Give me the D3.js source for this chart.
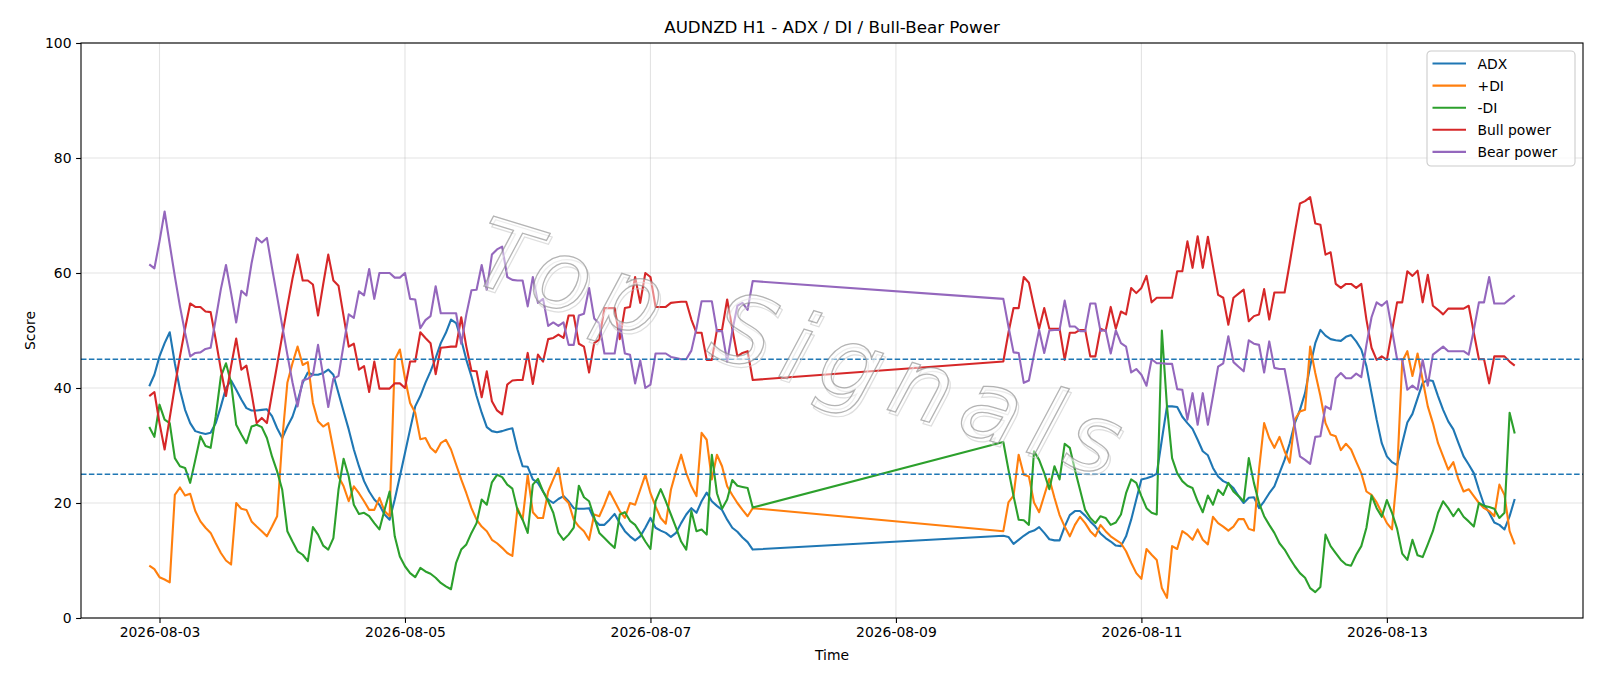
<!DOCTYPE html>
<html>
<head>
<meta charset="utf-8">
<script src="https://cdn.jsdelivr.net/npm/d3@7"></script>
<style>
  body { margin: 0; background: #fff; }
  svg { display: block; }
  text { font-family: "DejaVu Sans", sans-serif; }
</style>
</head>
<body>
<svg id="chart" width="1600" height="686"></svg>
<script>
// hourly bars, two trading blocks (weekend gap in between)
const segmentStarts = ["2026-08-02T22:00:00Z", "2026-08-09T21:00:00Z"];
const segmentEnds   = ["2026-08-07T20:00:00Z", "2026-08-14T01:00:00Z"];

const tickLabels = ["2026-08-03", "2026-08-05", "2026-08-07", "2026-08-09", "2026-08-11", "2026-08-13"];
const yTicks = [0, 20, 40, 60, 80, 100];
const levels = [45, 25];

const adx = [
  40.3, 42.3, 45.5, 47.8, 49.7, 44.3, 39.7, 36.2, 33.9, 32.5,
  32.2, 32.0, 32.2, 33.9, 36.8, 40.0, 41.3, 39.7, 38.0, 36.5,
  36.1, 36.1, 36.2, 36.3, 35.1, 33.0, 31.3, 33.3, 35.0, 37.7,
  40.9, 42.7, 42.3, 42.3, 42.6, 43.2, 42.3, 39.1, 35.9, 32.8,
  29.3, 26.4, 23.8, 22.0, 20.6, 19.7, 18.0, 17.1, 20.6, 24.6,
  28.7, 32.8, 36.8, 38.6, 40.9, 42.9, 45.2, 47.8, 49.6, 51.9,
  51.3, 48.4, 44.9, 42.0, 38.6, 35.7, 33.2, 32.5, 32.3, 32.5,
  32.8, 33.0, 29.3, 26.4, 26.3, 24.1, 23.5, 22.0, 20.6, 20.0,
  20.7, 21.2, 20.3, 19.1, 19.0, 19.0, 19.1, 17.1, 16.2, 16.2,
  17.1, 18.1, 16.5, 15.1, 14.2, 13.5, 14.2, 15.7, 17.4, 15.7,
  15.2, 14.8, 14.1, 14.8, 16.5, 18.0, 19.1, 18.3, 20.3, 21.8,
  20.3, 19.5, 18.8, 17.1, 15.7, 15.0, 14.0, 13.2, 11.9,
  14.3, 14.1, 12.9, 13.6, 14.3, 14.9, 15.2, 15.8, 14.8, 13.7,
  13.5, 13.5, 15.9, 17.9, 18.6, 18.6, 17.8, 16.8, 15.9, 14.7,
  13.9, 13.3, 12.6, 12.5, 14.2, 17.1, 20.6, 24.1, 24.3, 24.6,
  25.1, 31.0, 36.8, 36.8, 36.7, 35.0, 33.9, 32.9, 31.0, 29.0,
  28.3, 26.1, 24.6, 23.8, 23.4, 22.6, 21.2, 20.0, 20.9, 21.0,
  19.1, 20.3, 21.7, 22.9, 25.2, 27.5, 30.4, 33.9, 36.2, 39.1,
  43.8, 47.8, 50.1, 49.1, 48.5, 48.3, 48.2, 48.9, 49.2, 48.1,
  46.7, 43.8, 39.1, 34.5, 30.4, 28.1, 27.1, 26.6, 30.4, 34.0,
  35.5, 38.2, 40.9, 41.4, 41.2, 38.6, 36.2, 34.2, 32.8, 30.4,
  28.1, 26.7, 25.2, 22.3, 19.7, 18.3, 16.6, 16.2, 15.4, 17.7,
  20.7
];

const plusDI = [
  9.1, 8.5, 7.1, 6.7, 6.2, 21.4, 22.7, 21.3, 21.6, 18.6,
  16.8, 15.7, 14.8, 13.0, 11.3, 10.0, 9.3, 20.0, 19.0, 18.8,
  16.8, 15.9, 15.1, 14.2, 15.9, 17.7, 31.0, 40.9, 44.3, 47.2,
  44.0, 44.5, 37.4, 34.2, 33.3, 33.9, 29.3, 24.6, 22.9, 20.3,
  22.9, 21.7, 20.3, 18.8, 18.8, 20.9, 18.6, 17.7, 44.9, 46.7,
  41.7, 37.4, 35.7, 31.1, 31.3, 29.6, 28.8, 30.4, 31.0, 29.3,
  26.7, 24.1, 21.7, 19.1, 17.1, 15.9, 15.1, 13.6, 13.0, 12.2,
  11.3, 10.8, 19.1, 17.1, 24.9, 18.4, 17.4, 17.4, 22.0, 24.1,
  26.1, 20.9, 20.0, 17.1, 15.9, 15.1, 13.6, 18.0, 17.7, 19.7,
  22.0, 20.3, 18.6, 17.4, 20.0, 19.7, 22.3, 24.9, 21.7, 19.4,
  17.4, 16.4, 22.3, 25.5, 28.4, 25.2, 22.9, 21.2, 32.2, 31.0,
  24.1, 28.4, 26.4, 22.9, 21.4, 20.0, 18.8, 17.7, 19.1,
  15.1, 20.1, 21.3, 28.4, 24.9, 24.6, 20.1, 18.4, 21.3, 24.2,
  20.9, 17.9, 15.9, 14.2, 16.2, 17.6, 16.5, 15.1, 14.2, 16.2,
  15.1, 14.2, 13.6, 13.0, 11.6, 9.6, 7.8, 6.8, 12.0, 11.0,
  10.1, 5.2, 3.5, 12.5, 12.0, 15.1, 14.5, 13.6, 15.4, 13.6,
  12.8, 17.6, 16.5, 15.9, 15.2, 15.9, 17.2, 17.2, 15.5, 15.2,
  25.8, 33.9, 31.3, 29.6, 31.5, 29.0, 27.0, 34.5, 35.9, 36.2,
  47.2, 42.6, 38.6, 33.9, 31.9, 31.6, 29.2, 30.3, 29.3, 27.2,
  25.2, 22.0, 21.4, 20.1, 18.3, 16.5, 15.4, 25.2, 44.6, 46.4,
  42.1, 46.0, 41.4, 36.8, 33.9, 30.4, 28.1, 25.8, 27.1, 24.1,
  22.0, 22.4, 21.2, 20.0, 19.1, 18.6, 17.7, 23.2, 21.4, 15.1,
  12.8
];

const minusDI = [
  33.2, 31.5, 37.1, 34.5, 33.9, 27.8, 26.4, 26.1, 23.5, 27.5,
  31.6, 29.9, 29.6, 35.1, 42.0, 44.3, 40.9, 33.6, 31.9, 30.4,
  33.3, 33.6, 33.2, 31.3, 28.1, 25.5, 22.3, 15.1, 13.3, 11.6,
  11.0, 9.9, 15.8, 14.5, 12.6, 11.9, 13.9, 22.3, 27.7, 24.6,
  19.7, 18.1, 18.3, 17.7, 16.5, 15.4, 18.8, 22.0, 14.2, 10.7,
  9.0, 7.8, 7.1, 8.7, 8.1, 7.7, 7.0, 6.1, 5.5, 5.0,
  9.6, 11.9, 12.8, 14.8, 16.5, 20.6, 19.7, 23.6, 24.9, 24.5,
  23.2, 22.5, 18.8, 17.1, 14.8, 23.2, 24.2, 22.0, 20.3, 18.3,
  14.8, 13.6, 14.5, 15.7, 23.0, 21.0, 20.3, 17.5, 14.8, 13.9,
  13.0, 12.2, 18.0, 18.4, 16.9, 16.2, 14.8, 13.3, 12.0, 20.3,
  22.4, 20.3, 18.0, 15.7, 13.3, 11.9, 18.6, 15.1, 15.4, 14.5,
  28.4, 21.7, 19.0, 20.6, 24.0, 23.0, 22.8, 22.6, 19.2,
  30.6, 25.8, 21.2, 17.1, 17.0, 16.2, 29.0, 27.5, 25.2, 22.4,
  26.4, 24.1, 30.3, 29.6, 25.8, 22.3, 18.8, 17.4, 16.5, 17.7,
  17.4, 16.2, 16.6, 18.0, 21.7, 24.1, 23.5, 21.2, 19.1, 18.3,
  18.0, 50.0, 36.8, 27.8, 25.2, 23.8, 23.0, 22.6, 20.3, 18.4,
  21.3, 19.7, 22.3, 21.4, 23.5, 22.0, 21.2, 20.3, 27.8, 23.5,
  20.0, 17.7, 16.2, 14.8, 13.0, 11.9, 10.4, 9.0, 7.8, 7.0,
  5.2, 4.5, 5.4, 14.5, 12.5, 11.3, 10.1, 9.3, 9.1, 11.0,
  12.5, 15.7, 21.3, 19.1, 17.6, 20.5, 18.3, 15.5, 11.2, 10.1,
  13.6, 10.9, 10.6, 12.8, 15.1, 18.3, 20.3, 19.1, 17.7, 19.0,
  17.6, 16.8, 15.9, 20.0, 19.5, 19.3, 19.0, 17.4, 18.3, 35.7,
  32.1
];

const bullPower = [
  38.6, 39.3, 33.9, 29.3, 34.8, 40.3, 45.5, 50.3, 54.7, 54.1,
  54.1, 53.3, 53.2, 48.4, 43.2, 38.6, 43.8, 48.6, 43.2, 43.9,
  39.1, 33.9, 34.8, 33.9, 39.0, 44.0, 49.1, 54.2, 59.0, 63.2,
  58.7, 58.7, 58.0, 52.6, 58.0, 63.2, 58.7, 57.8, 52.5, 47.2,
  47.7, 43.2, 43.8, 39.3, 44.6, 39.9, 39.9, 39.9, 40.8, 40.8,
  40.0, 44.6, 44.6, 49.7, 48.7, 47.8, 42.4, 47.0, 47.1, 47.2,
  47.2, 52.3, 47.2, 43.0, 42.9, 38.4, 42.9, 37.7, 36.1, 35.4,
  40.6, 41.3, 41.4, 41.4, 46.1, 40.7, 45.8, 44.6, 48.5, 48.7,
  49.3, 48.7, 52.6, 52.6, 47.7, 47.2, 42.7, 47.8, 48.4, 53.9,
  53.9, 53.9, 48.5, 53.9, 54.1, 59.3, 54.8, 60.0, 59.3, 54.1,
  54.1, 54.1, 54.8, 54.9, 55.0, 55.0, 51.9, 49.6, 49.6, 44.9,
  44.9, 50.1, 50.1, 55.4, 50.3, 45.5, 46.1, 46.4, 41.4,
  44.6, 49.6, 53.9, 53.9, 59.3, 58.3, 54.2, 50.3, 53.9, 50.3,
  50.3, 50.3, 44.9, 49.6, 49.6, 50.1, 50.1, 45.5, 45.5, 50.3,
  49.9, 54.1, 50.3, 53.3, 52.8, 57.4, 56.5, 57.4, 59.5, 54.9,
  55.7, 55.7, 55.7, 55.7, 60.3, 60.3, 65.5, 60.9, 66.4, 60.9,
  66.3, 61.2, 56.2, 55.7, 51.0, 55.7, 56.4, 57.1, 51.6, 52.5,
  52.8, 57.2, 51.9, 56.6, 56.6, 56.6, 61.7, 67.0, 72.1, 72.5,
  73.2, 68.6, 68.4, 63.2, 63.6, 58.1, 57.4, 58.1, 58.1, 57.4,
  58.1, 51.9, 47.0, 44.9, 45.5, 44.9, 49.9, 54.9, 54.9, 60.3,
  59.5, 60.4, 54.9, 59.7, 54.3, 53.6, 52.8, 53.8, 53.8, 53.8,
  53.8, 54.3, 49.6, 45.0, 45.0, 40.8, 45.5, 45.5, 45.5, 44.6,
  43.9
];

const bearPower = [
  61.5, 60.8, 65.5, 70.7, 65.0, 59.4, 54.2, 49.6, 45.5, 46.1,
  46.2, 46.8, 47.0, 52.0, 57.2, 61.4, 56.5, 51.4, 56.9, 56.1,
  61.7, 66.1, 65.3, 66.1, 60.9, 55.9, 50.8, 45.8, 41.0, 36.8,
  41.3, 41.6, 42.3, 47.5, 42.1, 36.7, 41.6, 42.1, 47.5, 52.8,
  52.2, 56.8, 56.1, 60.7, 55.5, 60.0, 60.0, 60.0, 59.2, 59.2,
  60.0, 55.5, 55.4, 50.4, 51.8, 52.5, 57.7, 53.0, 53.0, 53.0,
  53.0, 47.7, 52.8, 57.0, 57.1, 61.4, 57.1, 63.2, 64.1, 64.6,
  59.3, 58.8, 58.7, 58.7, 54.2, 59.3, 54.8, 55.5, 50.8, 51.4,
  50.8, 51.4, 47.5, 47.5, 52.6, 52.9, 57.4, 52.1, 51.2, 46.0,
  46.0, 46.0, 51.3, 46.0, 45.8, 40.8, 44.8, 40.0, 40.6, 46.0,
  46.0, 46.0, 45.4, 45.2, 45.0, 45.0, 46.5, 50.4, 55.1, 55.1,
  55.1, 49.9, 49.9, 44.6, 49.9, 54.3, 54.8, 53.6, 58.6,
  55.5, 50.7, 46.2, 46.1, 40.9, 41.3, 45.8, 50.1, 46.1, 50.0,
  50.1, 50.1, 55.2, 50.7, 50.7, 49.9, 49.9, 54.7, 54.7, 49.9,
  50.1, 46.0, 50.0, 47.8, 47.2, 42.7, 43.3, 42.3, 40.4, 45.0,
  44.3, 44.3, 44.2, 44.2, 39.8, 39.7, 34.5, 39.1, 33.6, 39.1,
  33.6, 38.6, 43.7, 44.3, 49.0, 44.5, 43.7, 42.9, 48.3, 47.7,
  47.5, 42.7, 48.1, 43.5, 43.3, 43.3, 38.6, 33.3, 28.1, 27.5,
  26.8, 31.5, 31.6, 36.8, 36.3, 41.7, 42.6, 41.7, 41.7, 42.5,
  41.9, 47.5, 52.3, 54.9, 54.3, 55.1, 50.1, 45.0, 45.0, 39.7,
  40.4, 39.7, 44.9, 40.4, 45.8, 46.5, 47.2, 46.4, 46.4, 46.4,
  46.4, 45.8, 50.1, 54.9, 54.9, 59.3, 54.7, 54.7, 54.7, 55.4,
  56.1
];

const seriesNames = ["ADX", "+DI", "-DI", "Bull power", "Bear power"];
const seriesColors = ["#1f77b4", "#ff7f0e", "#2ca02c", "#d62728", "#9467bd"];
const seriesValues = [adx, plusDI, minusDI, bullPower, bearPower];

const svg = d3.select("#chart");
const width = +svg.attr("width");
const height = +svg.attr("height");
const margin = { top: 43, right: 17, bottom: 68, left: 81 };
const innerWidth = width - margin.left - margin.right;
const innerHeight = height - margin.top - margin.bottom;

// timeline: every hour inside each block
const times = segmentStarts.flatMap((s, i) =>
  d3.utcHour.range(new Date(s), d3.utcHour.offset(new Date(segmentEnds[i]), 1)));

// matplotlib style 5% x margin
const [tMin, tMax] = d3.extent(times);
const pad = (tMax - tMin) * 0.05;
const x = d3.scaleUtc().domain([new Date(+tMin - pad), new Date(+tMax + pad)]).range([0, innerWidth]);
const y = d3.scaleLinear().domain([0, 100]).range([innerHeight, 0]);

const g = svg.append("g").attr("transform", `translate(${margin.left},${margin.top})`);
const tickDates = tickLabels.map(s => new Date(s + "T00:00:00Z"));

// grid
g.append("g").selectAll("line").data(yTicks).enter().append("line")
  .attr("x1", 0).attr("x2", innerWidth)
  .attr("y1", d => y(d)).attr("y2", d => y(d))
  .attr("stroke", "#b0b0b0").attr("stroke-opacity", 0.35).attr("stroke-width", 1.1);
g.append("g").selectAll("line").data(tickDates).enter().append("line")
  .attr("y1", 0).attr("y2", innerHeight)
  .attr("x1", d => x(d)).attr("x2", d => x(d))
  .attr("stroke", "#b0b0b0").attr("stroke-opacity", 0.35).attr("stroke-width", 1.1);

// series
seriesValues.forEach((vals, i) => {
  const line = d3.line().x((d, j) => x(times[j])).y(d => y(d));
  g.append("path")
    .datum(vals)
    .attr("fill", "none")
    .attr("stroke", seriesColors[i])
    .attr("stroke-width", 2.1)
    .attr("stroke-linejoin", "round")
    .attr("d", line);
});

// reference levels
g.append("g").selectAll("line").data(levels).enter().append("line")
  .attr("x1", 0).attr("x2", innerWidth)
  .attr("y1", d => y(d)).attr("y2", d => y(d))
  .attr("stroke", "#1f77b4").attr("stroke-width", 1.5)
  .attr("stroke-dasharray", "5.5,2.4");

// axes
const xAxis = d3.axisBottom(x).tickValues(tickDates)
  .tickFormat(d3.utcFormat("%Y-%m-%d")).tickSize(4.9).tickPadding(4.6);
const yAxis = d3.axisLeft(y).tickValues(yTicks).tickSize(4.9).tickPadding(4.6);

const gx = g.append("g").attr("transform", `translate(0,${innerHeight})`).call(xAxis);
const gy = g.append("g").call(yAxis);
[gx, gy].forEach(a => {
  a.select(".domain").remove();
  a.selectAll(".tick line").attr("stroke", "#000").attr("stroke-width", 1.1);
  a.selectAll(".tick text").attr("fill", "#000").style("font-size", "13.9px")
    .style("font-family", "'DejaVu Sans', sans-serif");
});

// frame
g.append("rect").attr("width", innerWidth).attr("height", innerHeight)
  .attr("fill", "none").attr("stroke", "#000").attr("stroke-width", 1.1);

// title and labels
svg.append("text").attr("x", margin.left + innerWidth / 2).attr("y", 33)
  .attr("text-anchor", "middle").style("font-size", "16.7px")
  .text("AUDNZD H1 - ADX / DI / Bull-Bear Power");
svg.append("text").attr("x", margin.left + innerWidth / 2).attr("y", 660)
  .attr("text-anchor", "middle").style("font-size", "13.9px").text("Time");
svg.append("text").attr("transform", `translate(35,${margin.top + innerHeight / 2}) rotate(-90)`)
  .attr("text-anchor", "middle").style("font-size", "13.9px").text("Score");

// legend
const legend = svg.append("g").attr("transform", "translate(1427,51)");
legend.append("rect").attr("width", 148).attr("height", 115).attr("rx", 4)
  .attr("fill", "#fff").attr("fill-opacity", 0.8)
  .attr("stroke", "#cccccc").attr("stroke-width", 1.1);
seriesNames.forEach((name, i) => {
  const cy = 12.5 + i * 22.1;
  legend.append("line").attr("x1", 5.5).attr("x2", 39).attr("y1", cy).attr("y2", cy)
    .attr("stroke", seriesColors[i]).attr("stroke-width", 2.1);
  legend.append("text").attr("x", 50.5).attr("y", cy + 5)
    .style("font-size", "13.9px").text(name);
});

// watermark, tilted down to the right
const wm = svg.append("g").attr("transform", "translate(798,347) rotate(17)");
wm.append("text").attr("x", 3).attr("y", 3).attr("dy", "0.35em")
  .attr("text-anchor", "middle").attr("textLength", 670).attr("lengthAdjust", "spacing")
  .style("font-size", "96px").style("font-style", "italic")
  .attr("fill", "none").attr("stroke", "#c8c8c8").attr("stroke-width", 1.2)
  .attr("stroke-opacity", 0.6).text("Top Signals");
wm.append("text").attr("dy", "0.35em")
  .attr("text-anchor", "middle").attr("textLength", 670).attr("lengthAdjust", "spacing")
  .style("font-size", "96px").style("font-style", "italic")
  .attr("fill", "#ffffff").attr("fill-opacity", 0.45)
  .attr("stroke", "#8c8c8c").attr("stroke-width", 1.3).attr("stroke-opacity", 0.65)
  .text("Top Signals");
</script>
</body>
</html>
